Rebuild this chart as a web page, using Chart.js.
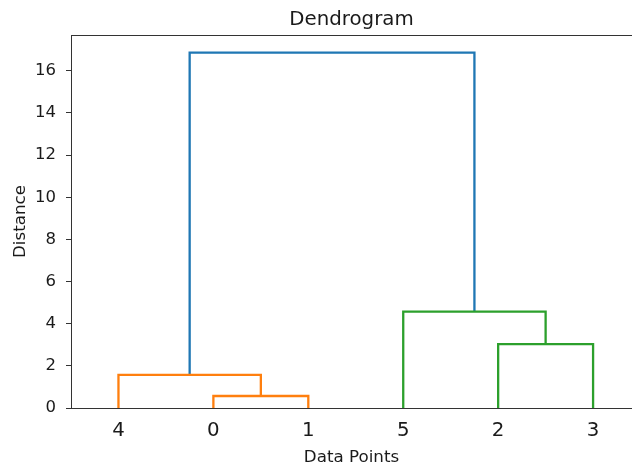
<!DOCTYPE html>
<html>
<head>
<meta charset="utf-8">
<title>Dendrogram</title>
<script src="https://cdn.jsdelivr.net/npm/chart.js@4.4.0/dist/chart.umd.min.js"></script>
<style>
  html, body { margin: 0; padding: 0; background: #fff; }
  #wrap { width: 632px; height: 465px; position: relative; }
</style>
</head>
<body>
<div id="wrap"><canvas id="dendrogram"></canvas></div>
<script>
// leaf order along the x axis (scipy puts leaves at 5, 15, 25, ...)
const leafLabels = ["4", "0", "1", "5", "2", "3"];
const leafPositions = [5, 15, 25, 35, 45, 55];

// each link is a U shape: x and height of its four corners
const linkX = [
  [15, 15, 25, 25],
  [5, 5, 20, 20],
  [45, 45, 55, 55],
  [35, 35, 50, 50],
  [12.5, 12.5, 42.5, 42.5],
];
const linkHeights = [
  [0, 0.57, 0.57, 0],
  [0, 1.57, 1.57, 0.57],
  [0, 3.03, 3.03, 0],
  [0, 4.57, 4.57, 3.03],
  [1.57, 16.86, 16.86, 4.57],
];
const linkColors = ["#ff7f0e", "#ff7f0e", "#2ca02c", "#2ca02c", "#1f77b4"];

const yTicks = [0, 2, 4, 6, 8, 10, 12, 14, 16];

const font = "'DejaVu Sans', sans-serif";
const textColor = "#1a1a1a";
const spineColor = "#333";

// Build one line dataset per link
const datasets = linkX.map((xs, i) => ({
  data: xs.map((x, j) => ({ x: x, y: linkHeights[i][j] })),
  borderColor: linkColors[i],
  borderWidth: 2.3,
  showLine: true,
  pointRadius: 0,
  tension: 0,
  fill: false,
}));

new Chart(document.getElementById("dendrogram"), {
  type: "scatter",
  data: { datasets: datasets },
  options: {
    responsive: true,
    maintainAspectRatio: false,
    animation: false,
    layout: { padding: 0 },
    plugins: {
      legend: { display: false },
      tooltip: { enabled: false },
      title: { display: false },
    },
    scales: {
      x: {
        type: "linear",
        position: "bottom",
        min: 0,
        max: 59.1,
        afterBuildTicks: (axis) => {
          axis.ticks = leafPositions.map((v) => ({ value: v }));
        },
        afterFit: (axis) => { axis.height = 57; },
        ticks: {
          autoSkip: false,
          maxRotation: 0,
          padding: 11,
          color: textColor,
          font: { family: font, size: 19.8 },
          callback: (value, index) => leafLabels[index],
        },
        grid: { display: true, drawOnChartArea: false, drawTicks: false },
        border: { display: true, color: spineColor, width: 1 },
        title: {
          display: true,
          text: "Data Points",
          color: textColor,
          font: { family: font, size: 16.7 },
          padding: { top: 0, bottom: -3 },
        },
      },
      xTop: {
        type: "linear",
        position: "top",
        min: 0,
        max: 59.1,
        afterFit: (axis) => { axis.height = 35; },
        ticks: { display: false },
        grid: { display: true, drawOnChartArea: false, drawTicks: false },
        border: { display: true, color: spineColor, width: 1 },
        title: {
          display: true,
          text: "Dendrogram",
          color: textColor,
          font: { family: font, size: 19.8 },
          padding: { top: 8, bottom: 0 },
        },
      },
      y: {
        type: "linear",
        position: "left",
        min: 0,
        max: 17.7,
        afterBuildTicks: (axis) => {
          axis.ticks = yTicks.map((v) => ({ value: v }));
        },
        afterFit: (axis) => { axis.width = 71; },
        ticks: {
          padding: 10,
          color: textColor,
          font: { family: font, size: 16.5 },
        },
        grid: {
          display: true,
          drawOnChartArea: false,
          drawTicks: true,
          tickLength: 5,
          color: spineColor,
        },
        border: { display: true, color: spineColor, width: 1 },
        title: {
          display: true,
          text: "Distance",
          color: textColor,
          font: { family: font, size: 16.7 },
          padding: { top: 11, bottom: 0 },
        },
      },
    },
  },
});
</script>
</body>
</html>
